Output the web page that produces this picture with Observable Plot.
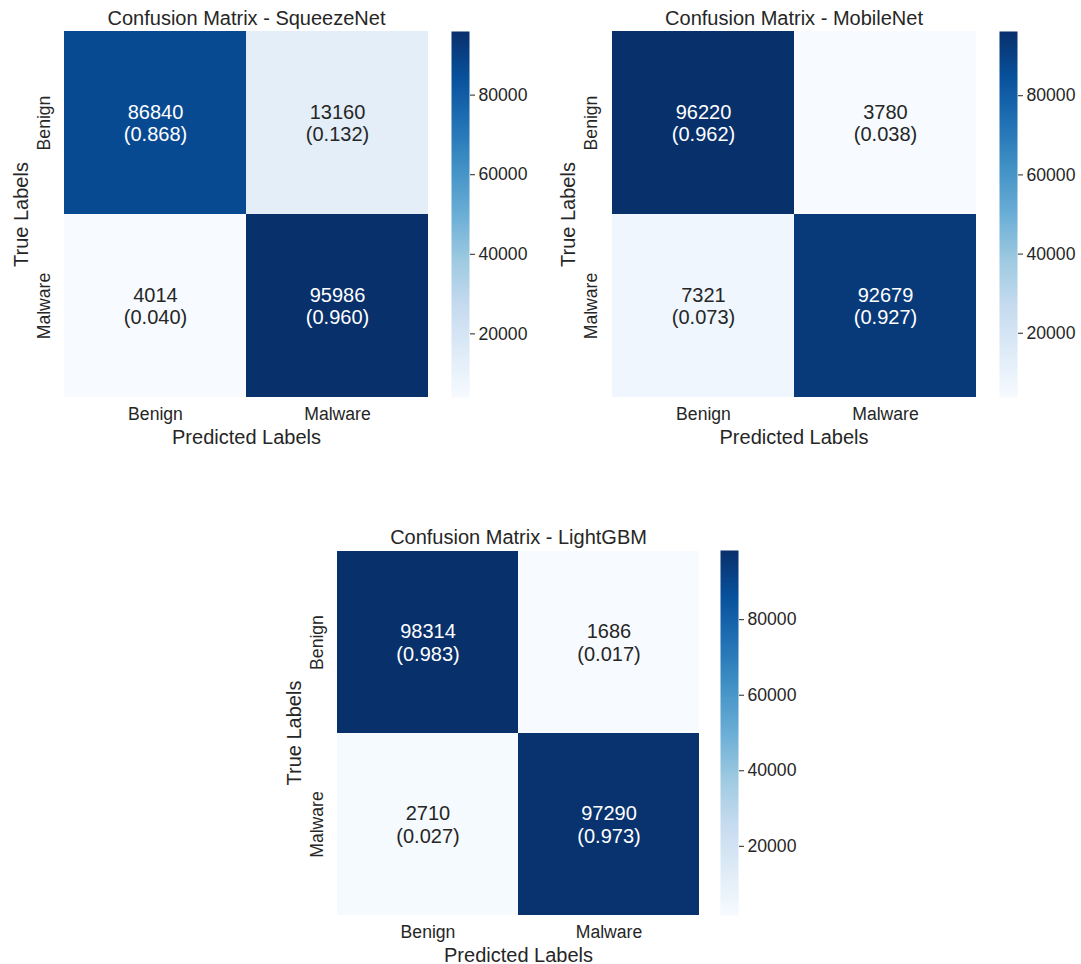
<!DOCTYPE html>
<html>
<head>
<meta charset="utf-8">
<script src="https://cdn.jsdelivr.net/npm/d3@7"></script>
<script src="https://cdn.jsdelivr.net/npm/@observablehq/plot@0.6"></script>
<style>
  html, body { margin: 0; padding: 0; background: #ffffff; overflow: hidden; }
  #root { position: relative; width: 1081px; height: 964px; background: #ffffff; }
  .piece { position: absolute; }
  .piece svg { overflow: visible; display: block; }
</style>
</head>
<body>
<div id="root"></div>
<script>
// ---- data ----
const labels = ["Benign", "Malware"];
const titles = ["Confusion Matrix - SqueezeNet", "Confusion Matrix - MobileNet", "Confusion Matrix - LightGBM"];
// row-major: [true Benign→pred Benign, true Benign→pred Malware, true Malware→pred Benign, true Malware→pred Malware]
const squeezeNetCounts = [86840, 13160, 4014, 95986];
const mobileNetCounts = [96220, 3780, 7321, 92679];
const lightGBMCounts = [98314, 1686, 2710, 97290];
const colorbarTicks = [20000, 40000, 60000, 80000];
const xAxisLabel = "Predicted Labels";
const yAxisLabel = "True Labels";

// ---- style ----
const FONT = "'Liberation Sans', Arial, Helvetica, sans-serif";
const INK = "#262626";
const interp = d3.piecewise(d3.interpolateRgb, d3.schemeBlues[9]);

function luminance(c) {
  const rgb = d3.rgb(c);
  const f = v => { v /= 255; return v <= 0.03928 ? v / 12.92 : Math.pow((v + 0.055) / 1.055, 2.4); };
  return 0.2126 * f(rgb.r) + 0.7152 * f(rgb.g) + 0.0722 * f(rgb.b);
}

const root = document.getElementById("root");

function panel(title, counts, layout) {
  const { left, top, w, h, cbLeft } = layout;
  const ML = 64, MT = 31, MB = 70;
  const min = d3.min(counts), max = d3.max(counts);
  const data = counts.map((v, i) => {
    const r = Math.floor(i / 2);
    const rowSum = counts[r * 2] + counts[r * 2 + 1];
    return { yt: labels[r], xp: labels[i % 2], value: v, frac: v / rowSum };
  });
  const isDark = d => luminance(interp((d.value - min) / (max - min))) <= 0.408;
  const label = d => `${d.value}\n(${d.frac.toFixed(3)})`;
  const color = { type: "linear", domain: [min, max], interpolate: interp };

  const heat = Plot.plot({
    width: ML + w, height: MT + h + MB,
    marginLeft: ML, marginRight: 0, marginTop: MT, marginBottom: MB,
    style: { fontFamily: FONT, fontSize: "17.6px", color: INK, background: "transparent", overflow: "visible" },
    x: { domain: labels, padding: 0 },
    y: { domain: labels, padding: 0, axis: null },
    color,
    marks: [
      Plot.cell(data, { x: "xp", y: "yt", fill: "value" }),
      Plot.text(data, { filter: isDark, x: "xp", y: "yt", text: label, fill: "#ffffff", fontSize: 20, lineHeight: 1.12 }),
      Plot.text(data, { filter: d => !isDark(d), x: "xp", y: "yt", text: label, fill: INK, fontSize: 20, lineHeight: 1.12 }),
      Plot.axisX({ tickSize: 0, tickPadding: 10, fontSize: 17.6, label: null, fill: INK }),
      Plot.text(labels, { y: d => d, frameAnchor: "left", textAnchor: "middle", dx: -20, rotate: -90, fontSize: 17.6, fill: INK }),
      Plot.text([yAxisLabel], { frameAnchor: "left", textAnchor: "middle", dx: -43, rotate: -90, fontSize: 20, fill: INK }),
      Plot.text([xAxisLabel], { frameAnchor: "bottom", textAnchor: "middle", dy: 46, lineAnchor: "bottom", fontSize: 20, fill: INK }),
      Plot.text([title], { frameAnchor: "top", textAnchor: "middle", dy: -7, lineAnchor: "bottom", fontSize: 20, fill: INK })
    ]
  });
  const d1 = document.createElement("div");
  d1.className = "piece";
  d1.style.left = (left - ML) + "px";
  d1.style.top = (top - MT) + "px";
  d1.appendChild(heat);
  root.appendChild(d1);

  const CBW = 18;
  const bar = Plot.plot({
    width: CBW + 62, height: MT + h + 10,
    marginLeft: 0, marginRight: 62, marginTop: MT, marginBottom: 10,
    style: { fontFamily: FONT, fontSize: "17.6px", color: INK, background: "transparent", overflow: "visible" },
    x: { domain: [0, 1], axis: null },
    y: { domain: [min, max] },
    color,
    marks: [
      Plot.raster({ fill: (x, y) => y, x1: 0, x2: 1, y1: min, y2: max }),
      Plot.axisY({ anchor: "right", ticks: colorbarTicks, tickSize: 5, tickPadding: 4,
                   tickFormat: d3.format("d"), fontSize: 17.6, label: null, stroke: INK, fill: INK })
    ]
  });
  const d2 = document.createElement("div");
  d2.className = "piece";
  d2.style.left = cbLeft + "px";
  d2.style.top = (top - MT) + "px";
  d2.appendChild(bar);
  root.appendChild(d2);
}

panel(titles[0], squeezeNetCounts, { left: 64, top: 31, w: 364, h: 366, cbLeft: 451 });
panel(titles[1], mobileNetCounts, { left: 611, top: 31, w: 365, h: 366, cbLeft: 999 });
panel(titles[2], lightGBMCounts, { left: 337, top: 550, w: 362, h: 365, cbLeft: 720 });
</script>
</body>
</html>
